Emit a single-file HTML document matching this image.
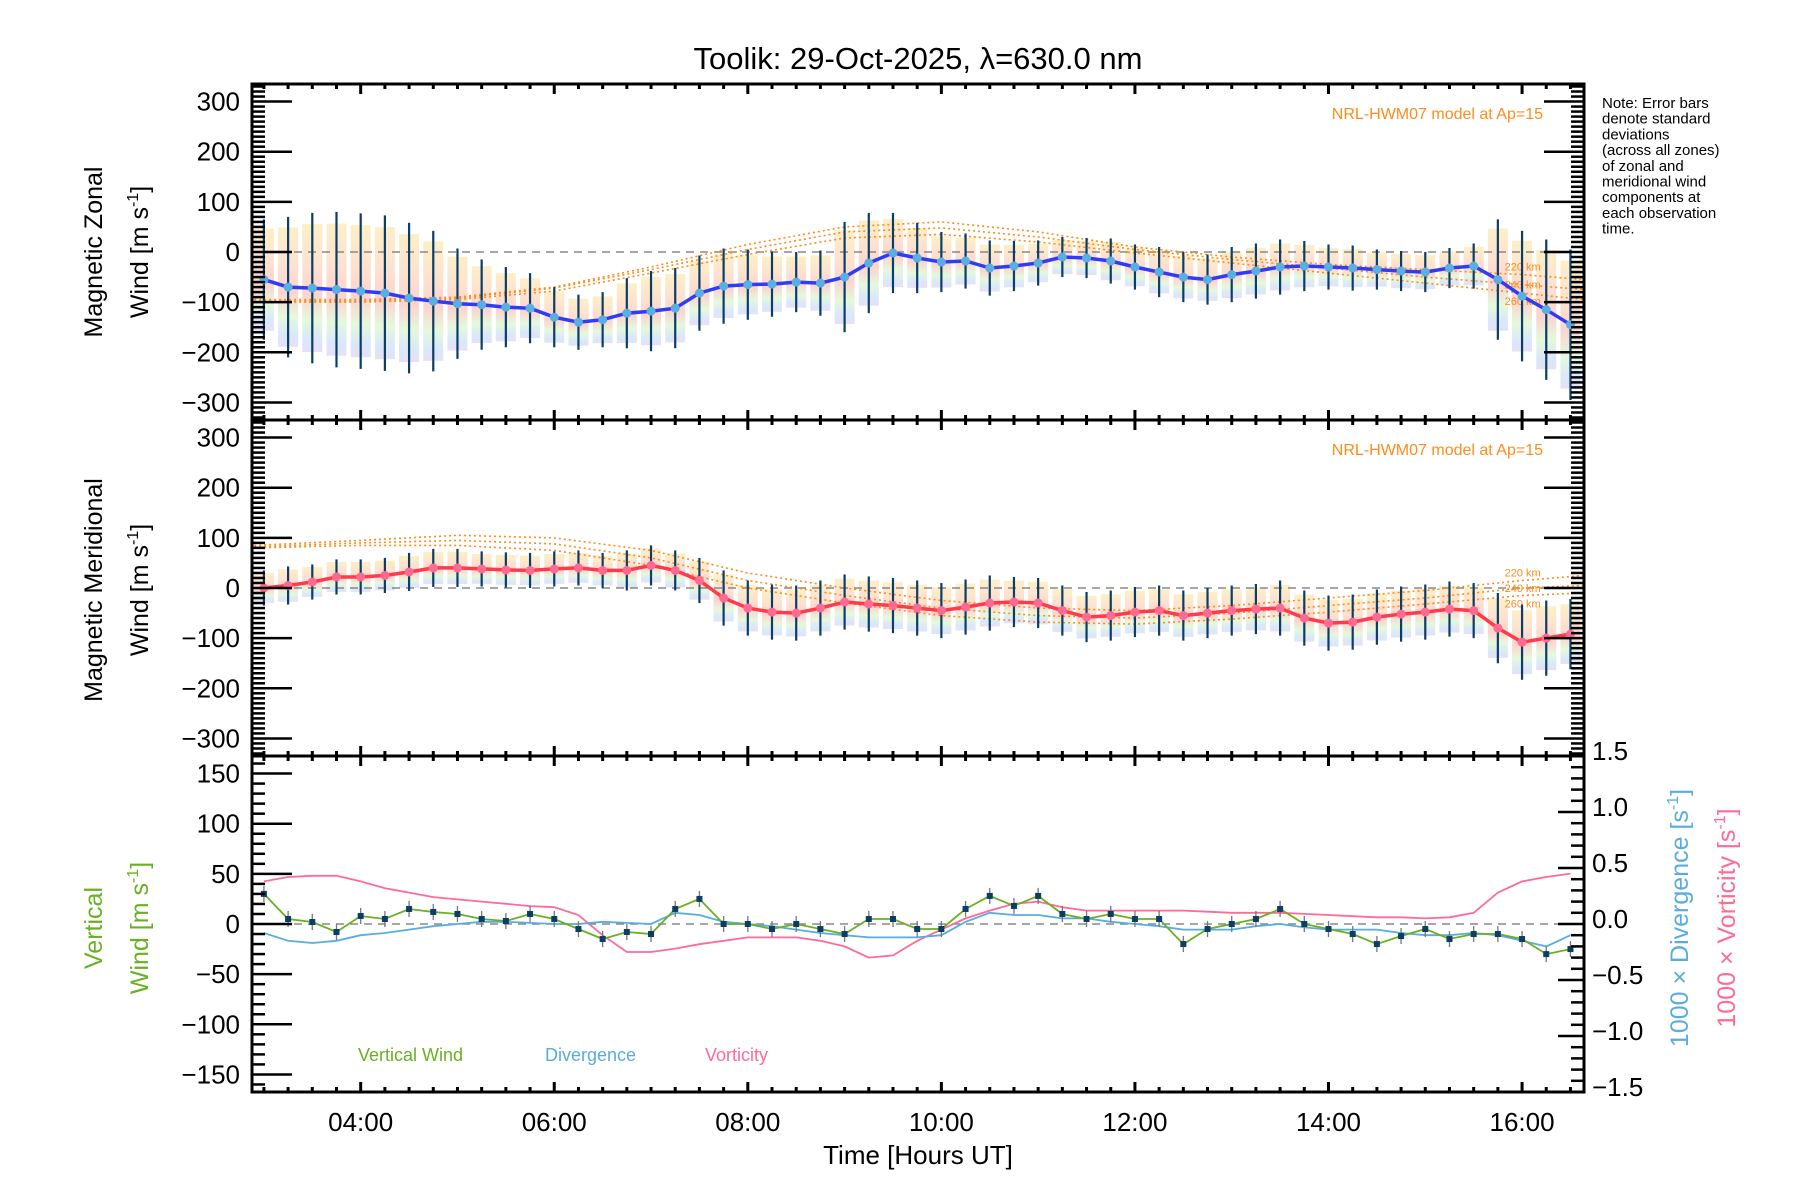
<!DOCTYPE html>
<html><head><meta charset="utf-8"><title>Toolik winds</title>
<style>
html,body{margin:0;padding:0;background:#fff;}
svg{display:block;font-family:"Liberation Sans",sans-serif;}
</style></head>
<body>
<svg id="chart" width="1800" height="1200" viewBox="0 0 1800 1200" xmlns="http://www.w3.org/2000/svg">
<defs>
<linearGradient id="band" x1="0" y1="0" x2="0" y2="1">
<stop offset="0" stop-color="#fbe7a8"/><stop offset="0.3" stop-color="#fcd3b6"/><stop offset="0.55" stop-color="#fbbcb4"/><stop offset="0.75" stop-color="#d6f5c8"/><stop offset="0.9" stop-color="#c6dcf7"/><stop offset="1" stop-color="#d8d0f0"/>
</linearGradient>
</defs>
<g id="layer"></g>
<text x="918" y="69" font-size="31" text-anchor="middle">Toolik: 29-Oct-2025, λ=630.0 nm</text>
<text x="1602" y="108" font-size="15"><tspan x="1602">Note: Error bars</tspan><tspan x="1602" dy="15.7">denote standard</tspan><tspan x="1602" dy="15.7">deviations</tspan><tspan x="1602" dy="15.7">(across all zones)</tspan><tspan x="1602" dy="15.7">of zonal and</tspan><tspan x="1602" dy="15.7">meridional wind</tspan><tspan x="1602" dy="15.7">components at</tspan><tspan x="1602" dy="15.7">each observation</tspan><tspan x="1602" dy="15.7">time.</tspan></text>
<text x="1543" y="119" font-size="16" fill="#ff8c1a" text-anchor="end">NRL-HWM07 model at Ap=15</text>
<text x="1543" y="455" font-size="16" fill="#ff8c1a" text-anchor="end">NRL-HWM07 model at Ap=15</text>
<text transform="translate(102,252) rotate(-90)" font-size="25" text-anchor="middle">Magnetic Zonal</text>
<text transform="translate(148,252) rotate(-90)" font-size="25" text-anchor="middle">Wind [m s<tspan font-size="16" dy="-10">-1</tspan><tspan dy="10">]</tspan></text>
<text transform="translate(102,590) rotate(-90)" font-size="25" text-anchor="middle">Magnetic Meridional</text>
<text transform="translate(148,590) rotate(-90)" font-size="25" text-anchor="middle">Wind [m s<tspan font-size="16" dy="-10">-1</tspan><tspan dy="10">]</tspan></text>
<text transform="translate(102,928) rotate(-90)" font-size="25" text-anchor="middle" fill="#6ab023">Vertical</text>
<text transform="translate(148,928) rotate(-90)" font-size="25" text-anchor="middle" fill="#6ab023">Wind [m s<tspan font-size="16" dy="-10">-1</tspan><tspan dy="10">]</tspan></text>
<text transform="translate(1688,918) rotate(-90)" font-size="25" text-anchor="middle" fill="#5aace0">1000 × Divergence [s<tspan font-size="16" dy="-10">-1</tspan><tspan dy="10">]</tspan></text>
<text transform="translate(1735,918) rotate(-90)" font-size="25" text-anchor="middle" fill="#ff6b96">1000 × Vorticity [s<tspan font-size="16" dy="-10">-1</tspan><tspan dy="10">]</tspan></text>
<text x="918" y="1164" font-size="26" text-anchor="middle">Time [Hours UT]</text>
<text x="358" y="1061" font-size="18" fill="#6ab023">Vertical Wind</text>
<text x="545" y="1061" font-size="18" fill="#5aace0">Divergence</text>
<text x="705" y="1061" font-size="18" fill="#ff6b96">Vorticity</text>
</svg>
<script>
const hours=[3.0,3.25,3.5,3.75,4.0,4.25,4.5,4.75,5.0,5.25,5.5,5.75,6.0,6.25,6.5,6.75,7.0,7.25,7.5,7.75,8.0,8.25,8.5,8.75,9.0,9.25,9.5,9.75,10.0,10.25,10.5,10.75,11.0,11.25,11.5,11.75,12.0,12.25,12.5,12.75,13.0,13.25,13.5,13.75,14.0,14.25,14.5,14.75,15.0,15.25,15.5,15.75,16.0,16.25,16.5];
const zonal=[-55,-70,-72,-75,-78,-82,-92,-98,-103,-105,-110,-112,-130,-140,-135,-122,-118,-112,-82,-68,-65,-64,-60,-62,-50,-22,-2,-12,-20,-18,-32,-28,-22,-10,-12,-18,-30,-40,-50,-55,-45,-38,-30,-28,-30,-32,-35,-38,-40,-32,-28,-55,-88,-115,-145];
const zonalErr=[120,140,150,155,155,155,150,140,110,90,80,70,60,55,55,70,80,80,75,75,70,65,60,65,110,100,80,70,60,55,55,50,45,40,40,45,45,50,50,50,55,55,55,50,45,45,40,40,40,40,45,120,130,140,150];
const merid=[0,5,12,22,22,25,32,40,40,38,36,35,38,40,35,35,45,35,15,-20,-40,-48,-50,-40,-28,-32,-35,-40,-45,-38,-30,-28,-30,-45,-58,-55,-48,-45,-55,-50,-45,-42,-40,-60,-70,-68,-58,-52,-48,-42,-45,-80,-108,-100,-92];
const meridErr=[35,38,35,35,35,35,38,38,38,35,35,35,35,35,35,40,40,40,45,55,55,55,55,55,55,55,55,55,55,55,55,50,50,50,50,50,50,50,50,50,50,50,55,55,55,55,55,55,55,55,55,70,75,75,70];
const vertWind=[30,5,2,-8,8,5,15,12,10,5,3,10,5,-5,-15,-8,-10,15,25,0,0,-5,0,-5,-10,5,5,-5,-5,15,28,18,28,10,5,10,5,5,-20,-5,0,5,15,0,-5,-10,-20,-12,-5,-15,-10,-10,-15,-30,-25];
const divergence=[-0.08,-0.15,-0.17,-0.15,-0.1,-0.08,-0.05,-0.02,0,0.02,0.02,0.01,0,0,0.02,0.01,0,0.1,0.08,0.02,0,-0.02,-0.05,-0.08,-0.1,-0.12,-0.12,-0.12,-0.1,0.02,0.1,0.08,0.08,0.05,0.05,0.02,0,-0.02,-0.05,-0.05,-0.05,-0.02,0,-0.03,-0.05,-0.05,-0.05,-0.08,-0.1,-0.1,-0.08,-0.1,-0.15,-0.2,-0.1];
const vorticity=[0.38,0.42,0.43,0.43,0.38,0.32,0.28,0.24,0.22,0.2,0.18,0.16,0.15,0.08,-0.1,-0.25,-0.25,-0.22,-0.18,-0.15,-0.12,-0.12,-0.12,-0.15,-0.2,-0.3,-0.28,-0.15,-0.05,0.05,0.12,0.18,0.2,0.15,0.12,0.12,0.12,0.12,0.12,0.11,0.1,0.1,0.1,0.09,0.08,0.07,0.06,0.06,0.05,0.06,0.1,0.28,0.38,0.42,0.45];
const modelHours=[2.9,4,5,6,7,8,9,10,11,12,13,14,15,16,16.64];
const zonalM220=[-95,-95,-90,-70,-30,15,50,60,40,10,-10,-25,-35,-45,-55];
const zonalM240=[-98,-98,-92,-72,-35,5,40,48,30,5,-15,-32,-50,-65,-75];
const zonalM260=[-100,-100,-95,-78,-42,-5,28,35,20,-2,-22,-42,-62,-82,-95];
const meridM220=[85,95,105,100,75,30,0,-25,-40,-45,-35,-20,-5,15,25];
const meridM240=[82,90,95,88,60,15,-15,-40,-55,-60,-50,-35,-20,0,5];
const meridM260=[80,85,85,75,45,0,-30,-55,-68,-72,-62,-48,-32,-15,-10];
const xTickLabels=["04:00","06:00","08:00","10:00","12:00","14:00","16:00"];
const windTicks=[-300,-200,-100,0,100,200,300];
const vertTicks=[-150,-100,-50,0,50,100,150];
const rightTicks=["-1.5","-1.0","-0.5","0.0","0.5","1.0","1.5"];

const NS="http://www.w3.org/2000/svg";
const layer=document.getElementById('layer');
const X0=252,X1=1584,T0=2.877,T1=16.64;
const sx=t=>X0+(t-T0)/(T1-T0)*(X1-X0);
const P=[{top:84,bot:420,lim:335},{top:420,bot:756,lim:335},{top:756,bot:1092,lim:167.5}];
function sy(p,v){const c=(p.top+p.bot)/2;return c-v/p.lim*(p.bot-p.top)/2;}
const syR=v=>(756+1092)/2-v/1.5*168;
function mk(tag,attrs,parent){const e=document.createElementNS(NS,tag);for(const k in attrs)e.setAttribute(k,attrs[k]);(parent||layer).appendChild(e);return e;}
function clipT(t){return Math.max(T0,Math.min(T1,t));}
function pathOf(ts,vs,fy){return ts.map((t,i)=>(i?'L':'M')+sx(clipT(t)).toFixed(1)+','+fy(vs[i]).toFixed(1)).join(' ');}

const defs=document.querySelector('defs');
P.forEach((p,i)=>{const c=mk('clipPath',{id:'cp'+i},defs);mk('rect',{x:X0,y:p.top,width:X1-X0,height:p.bot-p.top},c);});

function windPanel(pi,vals,errs,lineCol,dotCol,m1,m2,m3,nm){
  const p=P[pi];
  const g=mk('g',{'clip-path':'url(#cp'+pi+')'});
  
  
  hours.forEach((t,i)=>{
    const r=mk('rect',{x:sx(t)-10,y:sy(p,vals[i]+errs[i]*0.85),width:20,height:sy(p,vals[i]-errs[i]*0.85)-sy(p,vals[i]+errs[i]*0.85),fill:'url(#band)',opacity:0.65},g);
    
    
  });
  const z=mk('line',{x1:X0,x2:X1,y1:sy(p,0),y2:sy(p,0),stroke:'#888','stroke-width':1.5,'stroke-dasharray':'8,6'},g);
  
  
  [[m1,'220'],[m2,'240'],[m3,'260']].forEach(([m,k])=>{
    const l=mk('path',{d:pathOf(modelHours,m,v=>sy(p,v)),fill:'none',stroke:'#ff8c1a','stroke-width':1.6,'stroke-dasharray':'2,3'},g);
    
    
    const lab=mk('text',{x:sx(15.82),y:sy(p,m[13])+(k==='220'?-4:k==='240'?4:12),'font-size':11,fill:'#ff8c1a'},g);
    lab.textContent=k+' km';
    
    
  });
  hours.forEach((t,i)=>{
    const e=mk('line',{x1:sx(t),x2:sx(t),y1:sy(p,vals[i]+errs[i]),y2:sy(p,vals[i]-errs[i]),stroke:'#0b3d66','stroke-width':2.2},g);
    
    
  });
  const ln=mk('path',{d:pathOf(hours,vals,v=>sy(p,v)),fill:'none',stroke:lineCol,'stroke-width':3.5},g);
  
  
  hours.forEach((t,i)=>{
    const c=mk('circle',{cx:sx(t),cy:sy(p,vals[i]),r:4.5,fill:dotCol},g);
    
    
  });
}
windPanel(0,zonal,zonalErr,'#2e3cf5','#5aaee0',zonalM220,zonalM240,zonalM260,'zonal');
windPanel(1,merid,meridErr,'#ff3a4a','#ff6a90',meridM220,meridM240,meridM260,'meridional');

(function(){
  const p=P[2];
  const g=mk('g',{'clip-path':'url(#cp2)'});
  
  
  const z=mk('line',{x1:X0,x2:X1,y1:sy(p,0),y2:sy(p,0),stroke:'#888','stroke-width':1.5,'stroke-dasharray':'8,6'},g);
  
  
  const vo=mk('path',{d:pathOf(hours,vorticity,syR),fill:'none',stroke:'#ff6b96','stroke-width':1.8},g);
  
  
  const dv=mk('path',{d:pathOf(hours,divergence,syR),fill:'none',stroke:'#5aace0','stroke-width':1.8},g);
  
  
  hours.forEach((t,i)=>{
    const e=mk('line',{x1:sx(t),x2:sx(t),y1:sy(p,vertWind[i]+8),y2:sy(p,vertWind[i]-8),stroke:'#777','stroke-width':1.3},g);
    
    
  });
  const vw=mk('path',{d:pathOf(hours,vertWind,v=>sy(p,v)),fill:'none',stroke:'#6ab023','stroke-width':1.8},g);
  
  
  hours.forEach((t,i)=>{
    const r=mk('rect',{x:sx(t)-3,y:sy(p,vertWind[i])-3,width:6,height:6,fill:'#0b3d66'},g);
    
    
  });
})();

const ax=mk('g',{});


P.forEach((p,pi)=>{
  const fr=mk('rect',{x:X0,y:p.top,width:X1-X0,height:p.bot-p.top,fill:'none',stroke:'#000','stroke-width':3},ax);
  
  
  for(let q=12;q<=66;q++){const t=q/4;if(t<T0||t>T1)continue;const major=(q%8===0);const L=major?10:5;
    mk('line',{x1:sx(t),x2:sx(t),y1:p.bot,y2:p.bot-L,stroke:'#000','stroke-width':3},ax);
    mk('line',{x1:sx(t),x2:sx(t),y1:p.top,y2:p.top+L,stroke:'#000','stroke-width':3},ax);}
  const step=10, majorStep=pi<2?100:50;
  for(let v=-Math.floor(p.lim/step)*step;v<=p.lim;v+=step){const major=(v%majorStep===0);const L=major?40:13;
    mk('line',{x1:X0,x2:X0+L,y1:sy(p,v),y2:sy(p,v),stroke:'#000','stroke-width':2.5},ax);
    if(pi<2) mk('line',{x1:X1,x2:X1-L,y1:sy(p,v),y2:sy(p,v),stroke:'#000','stroke-width':2.5},ax);}
  const ticks=pi<2?windTicks:vertTicks;
  ticks.forEach(v=>{const tx=mk('text',{x:X0-12,y:sy(p,v)+9,'font-size':26,'text-anchor':'end'},ax);
    tx.textContent=(v<0?'\u2212'+(-v):String(v));
    
    });
});
for(let k=-15;k<=15;k++){const v=k/10;const major=(k%5===0);const L=major?26:13;
  mk('line',{x1:X1,x2:X1-L,y1:syR(v),y2:syR(v),stroke:'#000','stroke-width':2.5},ax);}
rightTicks.forEach(s=>{const v=parseFloat(s);const tx=mk('text',{x:X1+8,y:syR(v)+4,'font-size':26},ax);
  tx.textContent=s.replace('-','\u2212');
  
  });
xTickLabels.forEach(s=>{const t=parseInt(s);const tx=mk('text',{x:sx(t),y:1131,'font-size':26,'text-anchor':'middle'},ax);
  tx.textContent=s;
  
  });
</script>
</body></html>
